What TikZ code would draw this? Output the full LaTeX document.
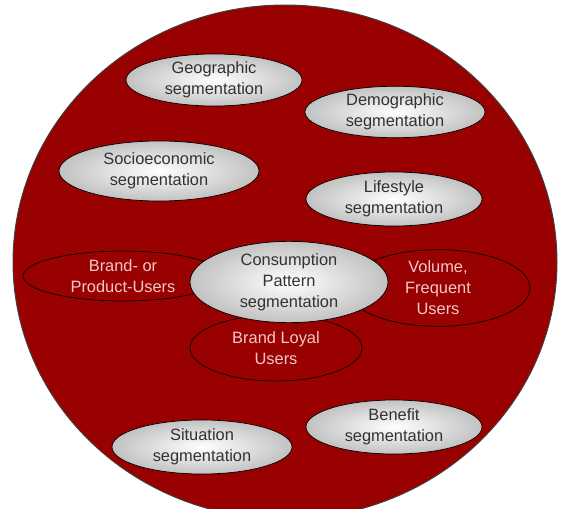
\documentclass[tikz,border=0pt]{standalone}
\usepackage{fontspec}
\setmainfont{Liberation Sans}
\usetikzlibrary{shapes.geometric}
\definecolor{discred}{RGB}{153,0,0}
\definecolor{usertext}{RGB}{242,200,200}
\definecolor{segtext}{RGB}{50,50,50}
\begin{document}
\begin{tikzpicture}[x=0.03cm,y=-0.03cm,
  size/.style 2 args={minimum width=#1*0.03cm, minimum height=#2*0.03cm},
  labelfont/.style={font=\fontsize{14}{18}\selectfont},
  segment/.style={ellipse, draw=black, line width=0.6pt, inner sep=0pt,
    inner color=white, outer color=gray!48, text=segtext, align=center, labelfont},
  usergroup/.style={ellipse, draw=black, line width=0.6pt, inner sep=0pt,
    fill=discred, text=usertext, align=center, labelfont}]
  \useasboundingbox (0,0) rectangle (565,508);
  \clip (0,0) rectangle (565,508);

  % market disc
  \node[ellipse, size={544}{514}, fill=discred, draw=black!75, line width=0.8pt]
    (market) at (285,262) {};

  % segmentation bases
  \node[segment, size={176}{52}] (geo)   at (214,80)  {Geographic\\segmentation};
  \node[segment, size={180}{48}] (demo)  at (395,112) {Demographic\\segmentation};
  \node[segment, size={200}{60}] (socio) at (159,171) {Socioeconomic\\segmentation};
  \node[segment, size={176}{54}] (life)  at (394,199) {Lifestyle\\segmentation};

  % user groups around the consumption pattern
  \node[usergroup, size={200}{50}] (brand)  at (123,276) {Brand- or\\Product-Users};
  \node[usergroup, size={184}{70}] (volume) at (438,288) {Volume,\\Frequent\\Users};
  \node[usergroup, size={172}{66}] (loyal)  at (276,348) {Brand Loyal\\Users};
  \node[segment, size={198}{80}] (cons) at (289,282) {Consumption\\Pattern\\segmentation};

  \node[segment, size={180}{54}] (situ) at (202,447) {Situation\\segmentation};
  \node[segment, size={176}{54}] (bene) at (394,427) {Benefit\\segmentation};
\end{tikzpicture}
\end{document}
